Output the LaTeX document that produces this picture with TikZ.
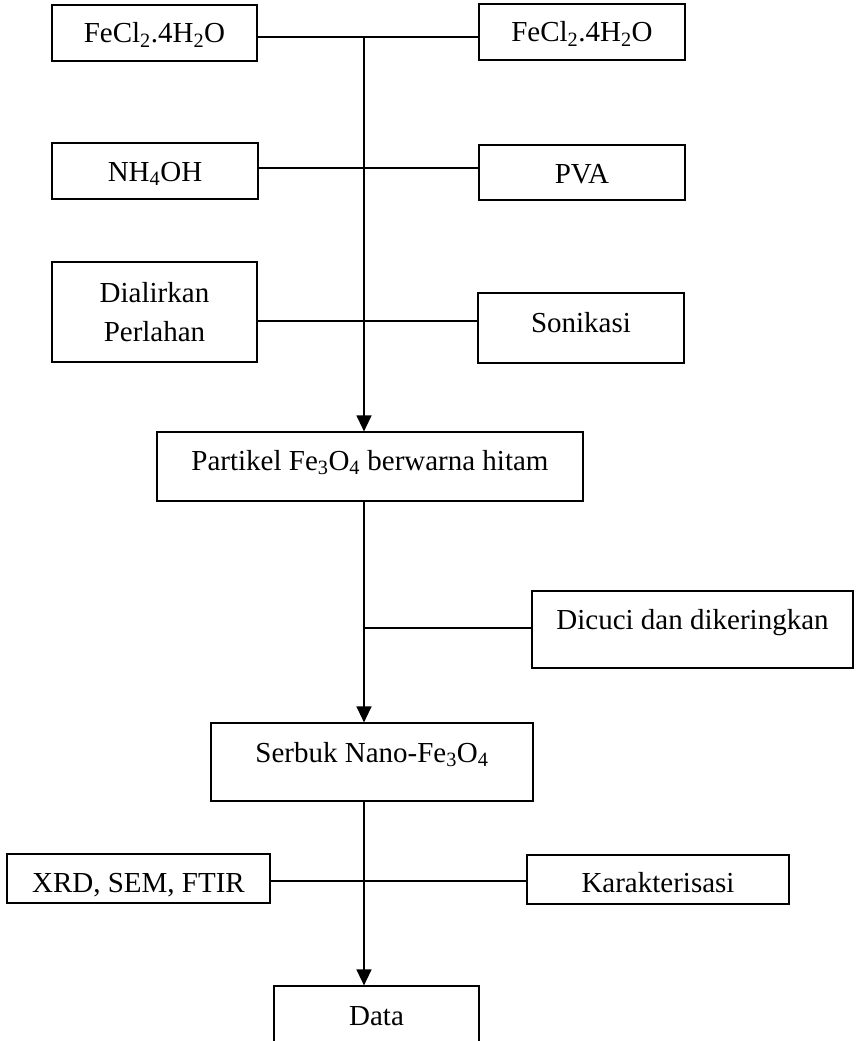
\documentclass[tikz,border=0pt]{standalone}
\usepackage{fontspec}
\setmainfont{Liberation Serif}
\usetikzlibrary{arrows.meta}
\begin{document}
\begin{tikzpicture}[x=1pt,y=-1pt,
  box/.style={draw, line width=1.2pt, inner xsep=0pt, inner ysep=0pt, anchor=base,
    font=\fontsize{29}{39}\selectfont},
  mbox/.style={draw, line width=1.2pt, inner xsep=0pt, inner ysep=0pt, align=center,
    font=\fontsize{29}{39}\selectfont},
  conn/.style={line width=1.3pt},
  flow/.style={line width=1.3pt, -{Triangle[width=15pt,length=16pt]}}]
\useasboundingbox (0,0) rectangle (858,1041);
\clip (0,0) rectangle (858,1041);
% nodes
\node[box, minimum width=205, text height=38, text depth=18] (feL) at (154.5,43) {FeCl\textsubscript{2}.4H\textsubscript{2}O};
\node[box, minimum width=206, text height=38, text depth=18] (feR) at (582,42) {FeCl\textsubscript{2}.4H\textsubscript{2}O};
\node[box, minimum width=206, text height=38, text depth=18] (nh) at (155,181) {NH\textsubscript{4}OH};
\node[box, minimum width=206, text height=38, text depth=17] (pva) at (582,183) {PVA};
\node[mbox, minimum width=205, minimum height=100] (dial) at (154.5,312) {Dialirkan\\Perlahan};
\node[box, minimum width=206, text height=39, text depth=31] (soni) at (581,332) {Sonikasi};
\node[box, minimum width=426, text height=38, text depth=31] (part) at (370,470) {Partikel Fe\textsubscript{3}O\textsubscript{4} berwarna hitam};
\node[box, minimum width=321, text height=38, text depth=39] (dicu) at (692.5,629) {Dicuci dan dikeringkan};
\node[box, minimum width=322, text height=39, text depth=39] (serb) at (372,762) {Serbuk Nano-Fe\textsubscript{3}O\textsubscript{4}};
\node[box, minimum width=263, text height=38, text depth=11] (xrd) at (138.5,892) {XRD, SEM, FTIR};
\node[box, minimum width=262, text height=37, text depth=12] (kar) at (658,892) {Karakterisasi};
\node[box, minimum width=205, text height=39, text depth=40] (data) at (376.5,1025) {Data};
% junctions
\coordinate (j1) at (364,37);
\coordinate (j2) at (364,168);
\coordinate (j3) at (364,321);
\coordinate (j4) at (364,628);
\coordinate (j5) at (364,881);
% connectors
\draw[conn] (feL.east |- j1) -- (feR.west |- j1);
\draw[conn] (nh.east |- j2) -- (pva.west |- j2);
\draw[conn] (dial.east |- j3) -- (soni.west |- j3);
\draw[flow] (j1) -- (j1 |- part.north);
\draw[flow] (part.south -| j4) -- (serb.north -| j4);
\draw[conn] (j4) -- (dicu.west |- j4);
\draw[conn] (xrd.east |- j5) -- (kar.west |- j5);
\draw[flow] (serb.south -| j5) -- (data.north -| j5);
\end{tikzpicture}
\end{document}
